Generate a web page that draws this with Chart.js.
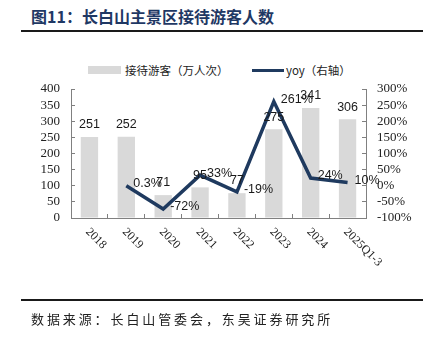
<!DOCTYPE html>
<html>
<head>
<meta charset="utf-8">
<script src="https://cdn.jsdelivr.net/npm/chart.js@4"></script>
<style>
  html, body { margin: 0; padding: 0; background: #fff; }
  #page { position: relative; width: 434px; height: 342px; overflow: hidden; }
  #title { position: absolute; left: 31px; top: 4px; font: bold 16px "Noto Sans CJK SC", sans-serif; color: #1f3864; white-space: nowrap; }
  .rule { position: absolute; left: 21px; width: 402px; height: 2px; background: #1a1a1a; }
  .leg { position: absolute; font: 11.5px "Noto Sans CJK SC", sans-serif; color: #222; white-space: nowrap; line-height: 14px; }
  #source { position: absolute; left: 31px; top: 309px; font: 13px "Noto Sans CJK SC", sans-serif; color: #222; letter-spacing: 2.9px; white-space: nowrap; }
  #wrap { position: absolute; left: 0; top: 0; width: 434px; height: 342px; }
</style>
</head>
<body>
<div id="page">
  <div id="title">图11：长白山主景区接待游客人数</div>
  <div class="rule" style="top:30px"></div>

  <div style="position:absolute;left:88px;top:66px;width:33px;height:8px;background:#d9d9d9"></div>
  <div class="leg" style="left:125px;top:63px">接待游客（万人次）</div>
  <div style="position:absolute;left:252px;top:68.5px;width:32px;height:3px;background:#1f3a5f"></div>
  <div class="leg" style="left:286px;top:63px">yoy（右轴）</div>

  <div id="wrap"><canvas id="c" width="434" height="342"></canvas></div>

  <div class="rule" style="top:299px"></div>
  <div id="source">数据来源：长白山管委会，东吴证券研究所</div>
</div>
<script>
// Visitors to the main Changbai Mountain scenic area (10k person-times) and YoY change
const years = ['2018', '2019', '2020', '2021', '2022', '2023', '2024', '2025Q1-3'];
const visitors = [251, 252, 71, 95, 77, 275, 341, 306];
const yoyPct = [null, 0.3, -72, 33, -19, 261, 24, 10];
const leftTicks = [0, 50, 100, 150, 200, 250, 300, 350, 400];
const rightTicks = [-100, -50, 0, 50, 100, 150, 200, 250, 300];

const axisGray = '#808080';
const navy = '#1f3a5f';

// Value labels above bars and beside the line points
const valueLabels = {
  id: 'valueLabels',
  afterDatasetsDraw(chart) {
    const ctx = chart.ctx;
    ctx.save();
    ctx.font = '12.5px "Liberation Sans", Arial, sans-serif';
    ctx.fillStyle = '#1a1a1a';
    const barMeta = chart.getDatasetMeta(0);
    barMeta.data.forEach((el, i) => {
      ctx.textAlign = 'center';
      ctx.textBaseline = 'bottom';
      ctx.fillText(String(visitors[i]), el.x, el.y - 6);
    });
    const lineMeta = chart.getDatasetMeta(1);
    lineMeta.data.forEach((el, i) => {
      if (yoyPct[i] === null) return;
      ctx.textAlign = 'left';
      ctx.textBaseline = 'middle';
      ctx.fillText(yoyPct[i] + '%', el.x + 7, el.y - 2);
    });
    ctx.restore();
  }
};

// Category labels on the x axis, slanted downward to the right
const slantedLabels = {
  id: 'slantedLabels',
  afterDraw(chart) {
    const ctx = chart.ctx;
    const xs = chart.scales.x;
    ctx.save();
    ctx.font = '12px "Liberation Serif", "Times New Roman", serif';
    ctx.fillStyle = '#222';
    ctx.textAlign = 'left';
    ctx.textBaseline = 'middle';
    years.forEach((lab, i) => {
      const x = xs.getPixelForTick(i);
      ctx.save();
      ctx.translate(x - 2, chart.chartArea.bottom + 12);
      ctx.rotate(Math.PI / 4);
      ctx.fillText(lab, 0, 0);
      ctx.restore();
    });
    ctx.restore();
  }
};

const tickFont = { family: '"Liberation Serif", "Times New Roman", serif', size: 13 };

new Chart(document.getElementById('c'), {
  data: {
    labels: years,
    datasets: [
      {
        type: 'bar',
        label: '接待游客（万人次）',
        data: visitors,
        yAxisID: 'y',
        backgroundColor: '#d9d9d9',
        barPercentage: 0.47,
        categoryPercentage: 1,
        order: 1
      },
      {
        type: 'line',
        label: 'yoy（右轴）',
        data: yoyPct,
        yAxisID: 'y1',
        borderColor: navy,
        borderWidth: 3.5,
        pointRadius: 0,
        tension: 0,
        fill: false,
        order: 0
      }
    ]
  },
  options: {
    responsive: false,
    animation: false,
    layout: { padding: { top: 89, bottom: 124, left: 0, right: 0 } },
    plugins: { legend: { display: false }, tooltip: { enabled: false } },
    scales: {
      x: {
        offset: true,
        ticks: { display: false },
        grid: { display: true, drawOnChartArea: false, offset: true, tickLength: -4, color: axisGray },
        border: { display: true, color: axisGray, width: 1 },
        afterFit(s) { s.height = 0; }
      },
      y: {
        position: 'left',
        min: 0, max: 400,
        afterBuildTicks(s) { s.ticks = leftTicks.map(v => ({ value: v })); },
        ticks: { font: tickFont, color: '#222', padding: 15, autoSkip: false },
        grid: { drawOnChartArea: false, tickLength: -4, color: axisGray },
        border: { display: true, color: axisGray, width: 1 },
        afterFit(s) { s.width = 71; }
      },
      y1: {
        position: 'right',
        min: -100, max: 300,
        afterBuildTicks(s) { s.ticks = rightTicks.map(v => ({ value: v })); },
        ticks: { font: tickFont, color: '#222', padding: 15, autoSkip: false, callback: v => v + '%' },
        grid: { drawOnChartArea: false, tickLength: -4, color: axisGray },
        border: { display: true, color: axisGray, width: 1 },
        afterFit(s) { s.width = 68; }
      }
    }
  },
  plugins: [valueLabels, slantedLabels]
});
</script>
</body>
</html>
